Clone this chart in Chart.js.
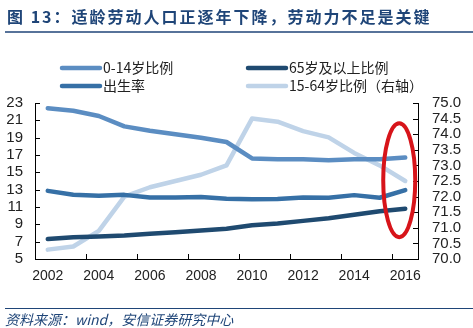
<!DOCTYPE html>
<html>
<head>
<meta charset="utf-8">
<script src="https://cdn.jsdelivr.net/npm/chart.js@4.4.0/dist/chart.umd.min.js"></script>
<style>
html, body { margin: 0; padding: 0; background: #fff; }
#wrap { position: relative; width: 473px; height: 328px; }
</style>
</head>
<body>
<div id="wrap"><canvas id="chart" width="473" height="328"></canvas></div>
<script>
const years = ["2002", "2003", "2004", "2005", "2006", "2007", "2008", "2009",
               "2010", "2011", "2012", "2013", "2014", "2015", "2016"];
// 0-14岁比例 (%)
const child = [22.4, 22.1, 21.5, 20.3, 19.8, 19.4, 19.0, 18.5, 16.6, 16.5, 16.5, 16.4, 16.5, 16.5, 16.7];
// 65岁及以上比例 (%)
const elderly = [7.3, 7.5, 7.6, 7.7, 7.9, 8.1, 8.3, 8.5, 8.9, 9.1, 9.4, 9.7, 10.1, 10.5, 10.8];
// 出生率 (‰)
const birthRate = [12.86, 12.41, 12.29, 12.40, 12.09, 12.10, 12.14, 11.95, 11.90, 11.93, 12.10, 12.08, 12.37, 12.07, 12.95];
// 15-64岁比例 (%)，右轴
const working = [70.3, 70.4, 70.9, 72.0, 72.3, 72.5, 72.7, 73.0, 74.5, 74.4, 74.1, 73.9, 73.4, 73.0, 72.5];

const leftTicks = [5, 23, 2];
const rightTicks = [70, 75, 0.5];

const titleText = "图 13：适龄劳动人口正逐年下降，劳动力不足是关键";
const sourceText = "资料来源：wind，安信证券研究中心";

const navy = "#1f4578";
const cjk = '"Noto Sans CJK SC", "Liberation Sans", sans-serif';

// 画标题、图例、内向刻度和红圈
const decor = {
  id: "decor",
  afterDraw(chart) {
    const ctx = chart.ctx;
    const area = chart.chartArea;
    const xs = chart.scales.x, ys = chart.scales.y, ys1 = chart.scales.y1;
    ctx.save();

    // title
    ctx.fillStyle = navy;
    ctx.font = "bold 16px " + cjk;
    ctx.letterSpacing = "2px";
    ctx.textBaseline = "middle";
    ctx.fillText(titleText, 7, 17);
    ctx.letterSpacing = "0px";
    ctx.strokeStyle = navy;
    ctx.lineWidth = 1.5;
    ctx.beginPath();
    ctx.moveTo(5, 32); ctx.lineTo(473, 32);
    ctx.stroke();

    // footer
    ctx.lineWidth = 1.2;
    ctx.beginPath();
    ctx.moveTo(5, 308.5); ctx.lineTo(473, 308.5);
    ctx.stroke();
    ctx.fillStyle = navy;
    ctx.font = "italic 14px " + cjk;
    ctx.fillText(sourceText, 5, 320);

    // legend
    const slots = [[62, 68], [248, 68], [62, 86], [248, 86]];
    ctx.font = "14px " + cjk;
    ctx.lineCap = "round";
    chart.data.datasets.forEach((ds, i) => {
      const [lx, ly] = slots[i];
      ctx.strokeStyle = ds.borderColor;
      ctx.lineWidth = 4.5;
      ctx.beginPath();
      ctx.moveTo(lx, ly); ctx.lineTo(lx + 38, ly);
      ctx.stroke();
      ctx.fillStyle = "#222";
      ctx.fillText(ds.label, lx + 41, ly);
    });
    ctx.lineCap = "butt";

    // inward ticks
    ctx.strokeStyle = "#000";
    ctx.lineWidth = 1;
    ctx.beginPath();
    ys.ticks.forEach((t, i) => {
      const py = Math.round(ys.getPixelForTick(i)) + 0.5;
      ctx.moveTo(area.left, py); ctx.lineTo(area.left + 5, py);
    });
    ys1.ticks.forEach((t, i) => {
      const py = Math.round(ys1.getPixelForTick(i)) + 0.5;
      ctx.moveTo(area.right, py); ctx.lineTo(area.right - 5, py);
    });
    for (let k = 2; k < years.length; k += 2) {
      const px = Math.round((xs.getPixelForValue(k - 1) + xs.getPixelForValue(k)) / 2) + 0.5;
      ctx.moveTo(px, area.bottom); ctx.lineTo(px, area.bottom - 5);
    }
    ctx.stroke();

    // red circle around the last year
    const cx = xs.getPixelForValue(years.length - 1) - 6;
    const top = ys1.getPixelForValue(74.35), bottom = ys1.getPixelForValue(70.7);
    ctx.strokeStyle = "#d7141a";
    ctx.lineWidth = 4;
    ctx.beginPath();
    ctx.ellipse(cx, (top + bottom) / 2, 16, (bottom - top) / 2, 0, 0, Math.PI * 2);
    ctx.stroke();

    ctx.restore();
  }
};

const lineStyle = { borderWidth: 4.5, pointRadius: 0, tension: 0, fill: false, borderJoinStyle: "round", borderCapStyle: "round" };

new Chart(document.getElementById("chart"), {
  type: "line",
  plugins: [decor],
  data: {
    labels: years,
    datasets: [
      Object.assign({ label: "0-14岁比例", data: child, borderColor: "#5b8dc2", yAxisID: "y" }, lineStyle),
      Object.assign({ label: "65岁及以上比例", data: elderly, borderColor: "#1f4a70", yAxisID: "y" }, lineStyle),
      Object.assign({ label: "出生率", data: birthRate, borderColor: "#3670a6", yAxisID: "y" }, lineStyle),
      Object.assign({ label: "15-64岁比例（右轴）", data: working, borderColor: "#bfd3e8", yAxisID: "y1" }, lineStyle)
    ]
  },
  options: {
    responsive: false,
    animation: false,
    devicePixelRatio: 1,
    layout: { padding: { left: 0, right: 0, top: 103, bottom: 39 } },
    plugins: {
      legend: { display: false },
      tooltip: { enabled: false },
      title: { display: false }
    },
    scales: {
      x: {
        type: "category",
        offset: true,
        grid: { display: false, drawTicks: false },
        border: { display: true, color: "#000", width: 1 },
        ticks: {
          autoSkip: false,
          maxRotation: 0,
          padding: 9,
          color: "#222",
          font: { family: "Liberation Sans", size: 14 },
          callback: (v, i) => (i % 2 === 0 ? years[i] : "")
        },
        afterFit: (s) => { s.height = 30; }
      },
      y: {
        position: "left",
        min: leftTicks[0],
        max: leftTicks[1],
        grid: { display: false, drawTicks: false },
        border: { display: true, color: "#000", width: 1 },
        ticks: {
          stepSize: leftTicks[2],
          autoSkip: false,
          padding: 12,
          color: "#222",
          font: { family: "Liberation Sans", size: 15 }
        },
        afterFit: (s) => { s.width = 35; }
      },
      y1: {
        position: "right",
        min: rightTicks[0],
        max: rightTicks[1],
        grid: { display: false, drawTicks: false },
        border: { display: true, color: "#000", width: 1 },
        ticks: {
          stepSize: rightTicks[2],
          autoSkip: false,
          padding: 14,
          color: "#222",
          font: { family: "Liberation Sans", size: 15 },
          callback: (v) => Number(v).toFixed(1)
        },
        afterFit: (s) => { s.width = 55; }
      }
    }
  }
});
</script>
</body>
</html>
